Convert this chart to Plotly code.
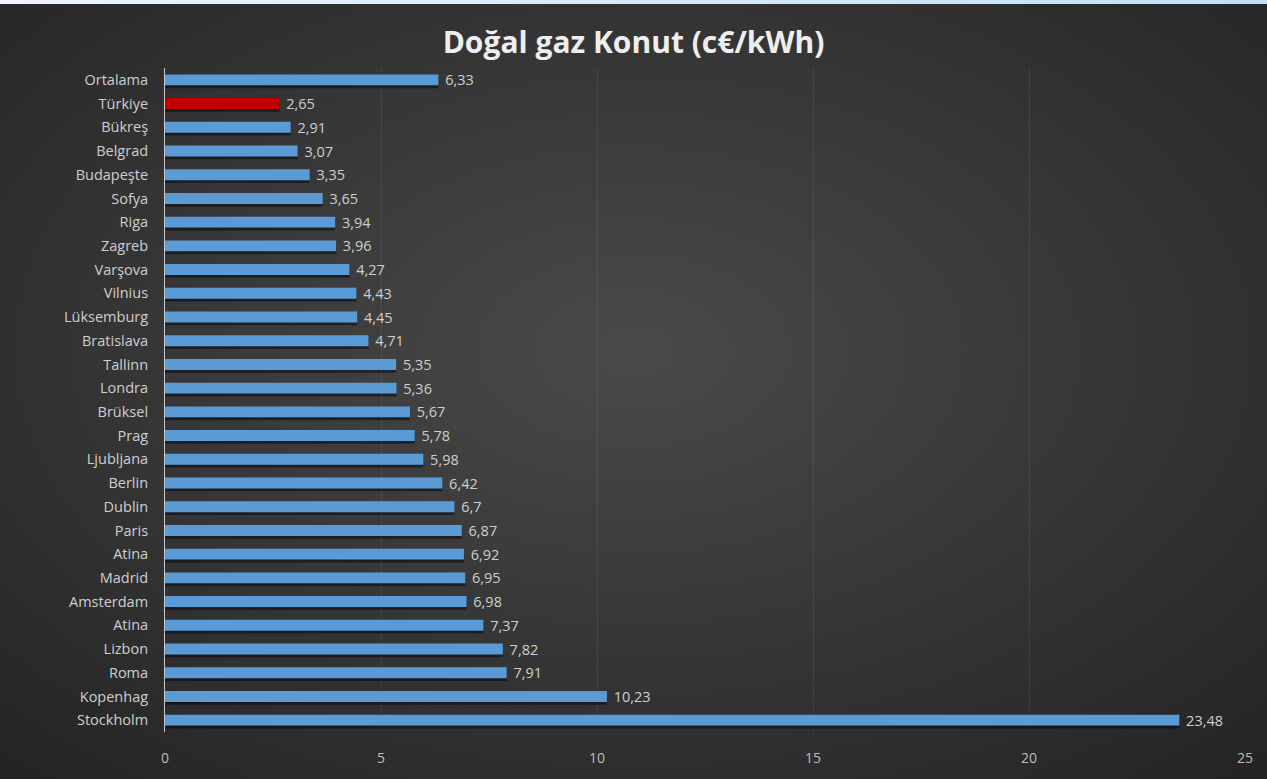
import plotly.graph_objects as go
import base64

cities = ["Ortalama", "Türkiye", "Bükreş", "Belgrad", "Budapeşte", "Sofya", "Riga", "Zagreb",
          "Varşova", "Vilnius", "Lüksemburg", "Bratislava", "Tallinn", "Londra", "Brüksel", "Prag",
          "Ljubljana", "Berlin", "Dublin", "Paris", "Atina", "Madrid", "Amsterdam", "Atina",
          "Lizbon", "Roma", "Kopenhag", "Stockholm"]
values = [6.33, 2.65, 2.91, 3.07, 3.35, 3.65, 3.94, 3.96,
          4.27, 4.43, 4.45, 4.71, 5.35, 5.36, 5.67, 5.78,
          5.98, 6.42, 6.7, 6.87, 6.92, 6.95, 6.98, 7.37,
          7.82, 7.91, 10.23, 23.48]
x_ticks = [0, 5, 10, 15, 20, 25]

W, H = 1267, 779
ML, MR, MT, MB = 165, 22, 68, 47
PW, PH = W - ML - MR, H - MT - MB

positions = list(range(len(cities)))
colors = ["#C00000" if c == "Türkiye" else "#5B9BD5" for c in cities]
labels = ["\u00a0" + str(v).replace(".", ",") for v in values]

svg = f'''<svg xmlns="http://www.w3.org/2000/svg" width="{W}" height="{H}" viewBox="0 0 {W} {H}" preserveAspectRatio="none">
<defs>
<radialGradient id="g" cx="50%" cy="45%" r="75%">
<stop offset="0%" stop-color="#4a4a4a"/>
<stop offset="100%" stop-color="#232323"/>
</radialGradient>
<linearGradient id="s" x1="0" x2="1" y1="0" y2="0">
<stop offset="0%" stop-color="#eef4fb"/>
<stop offset="100%" stop-color="#bfe0f4"/>
</linearGradient>
</defs>
<rect x="0" y="0" width="{W}" height="{H}" fill="url(#g)"/>
<rect x="0" y="0" width="{W}" height="4" fill="url(#s)"/>
</svg>'''
src = "data:image/svg+xml;base64," + base64.b64encode(svg.encode("utf-8")).decode("ascii")

BW = 0.46
fig = go.Figure()
# soft shadow under bars
fig.add_trace(go.Bar(
    y=positions, x=values, orientation="h",
    marker=dict(color="rgba(10,10,12,0.55)", line=dict(width=0)),
    width=BW, offset=-BW / 2 + 0.12,
    hoverinfo="skip",
))
fig.add_trace(go.Bar(
    y=positions, x=values, orientation="h",
    marker=dict(color=colors, line=dict(width=0)),
    width=BW, offset=-BW / 2,
    text=labels, textposition="outside", cliponaxis=False, constraintext="none",
    textfont=dict(family="Open Sans", size=14.5, color="#cfcfcf"),
    hoverinfo="skip",
))

fig.update_layout(
    width=W, height=H,
    margin=dict(l=ML, r=MR, t=MT, b=MB),
    paper_bgcolor="#333333",
    plot_bgcolor="rgba(0,0,0,0)",
    showlegend=False,
    barmode="overlay",
    title=dict(text="<b>Doğal gaz Konut (c€/kWh)</b>", x=0.5, xanchor="center",
               y=1 - 42 / H, yanchor="middle",
               font=dict(family="Open Sans", size=30, color="#eeeeee")),
    images=[dict(source=src, xref="paper", yref="paper",
                 x=-ML / PW, y=1 + MT / PH, sizex=W / PW, sizey=H / PH,
                 xanchor="left", yanchor="top", sizing="stretch", layer="below")],
    xaxis=dict(range=[0, 25], tickvals=x_ticks, ticktext=[str(t) for t in x_ticks],
               showgrid=True, gridcolor="rgba(255,255,255,0.07)", gridwidth=1,
               zeroline=False, showline=False, ticks="",
               ticklabelstandoff=16,
               tickfont=dict(family="Open Sans", size=14, color="#bdbdbd")),
    yaxis=dict(tickvals=positions, ticktext=cities, autorange="reversed",
               showgrid=False, zeroline=False,
               showline=True, linecolor="#c8c8c8", linewidth=1, ticks="",
               ticklabelstandoff=13,
               tickfont=dict(family="Open Sans", size=14.5, color="#cfcfcf")),
)

fig.write_html("out.html", config={"displayModeBar": False},
               post_script="document.body.style.margin='0';document.body.style.padding='0';")
